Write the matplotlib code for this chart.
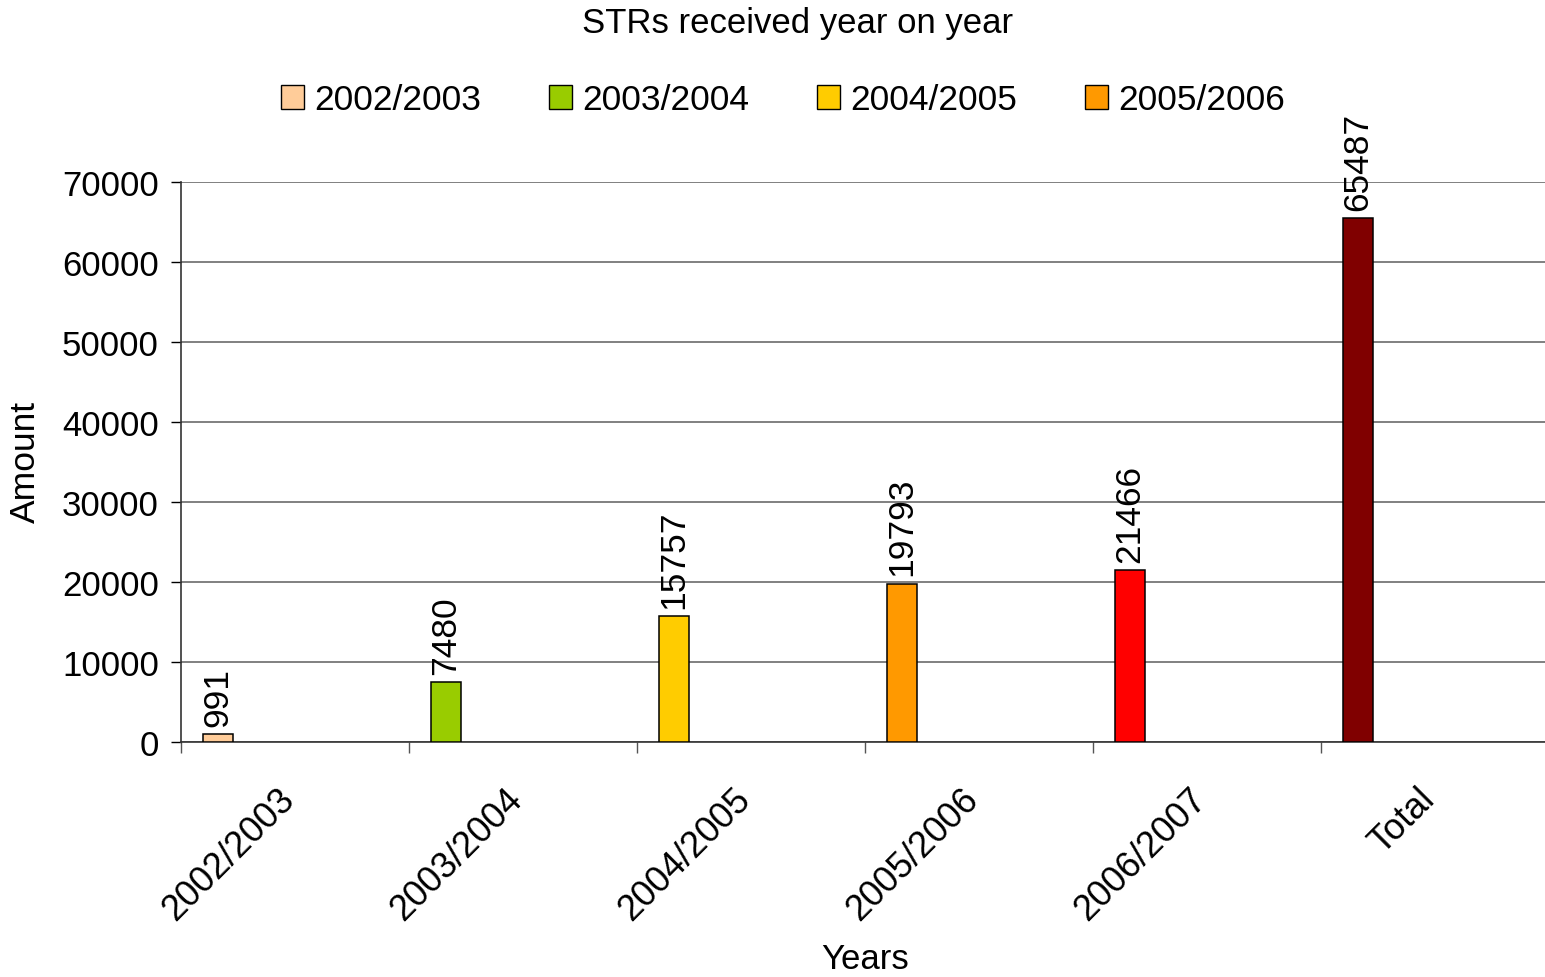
import numpy as np
import matplotlib
matplotlib.use('Agg')
from matplotlib import pyplot as plt
from matplotlib.patches import Patch

categories = ['2002/2003', '2003/2004', '2004/2005', '2005/2006', '2006/2007', 'Total']
values = [991, 7480, 15757, 19793, 21466, 65487]
colors = ['#FFCC99', '#99CC00', '#FFCC00', '#FF9900', '#FF0000', '#800000']
legend_labels = ['2002/2003', '2003/2004', '2004/2005', '2005/2006']
legend_colors = ['#FFCC99', '#99CC00', '#FFCC00', '#FF9900']

plt.rc('font', family=['Liberation Sans', 'DejaVu Sans'])

fig = plt.figure(figsize=(15.45, 9.78), dpi=100)
ax = fig.add_axes([181 / 1545, 1 - 743 / 978, 1 - 181 / 1545, (743 - 183) / 978])

x = np.arange(len(categories))
ax.bar(x + 0.162, values, width=0.132, color=colors, edgecolor='black', linewidth=1.1, zorder=3)

for xi, v in zip(x, values):
    ax.annotate(str(v), (xi + 0.162, v), xytext=(0, 6), textcoords='offset points',
                rotation=90, ha='center', va='bottom', fontsize=25.5, annotation_clip=False)

ax.set_xlim(0, 1364 / 228)
ax.set_ylim(0, 70000)
ax.set_yticks(range(0, 70001, 10000))
ax.tick_params(axis='y', labelsize=25, length=7, width=1, pad=9)

ax.set_xticks(range(0, 6))
ax.set_xticklabels([])
ax.set_xticks(x + 0.42, minor=True)
ax.set_xticklabels(categories, minor=True, rotation=45, ha='right', va='top',
                   rotation_mode='anchor', fontsize=26)
ax.tick_params(axis='x', which='major', length=8, width=1, color='#555555')
ax.tick_params(axis='x', which='minor', length=0, pad=28)

ax.yaxis.grid(True, color='#808080', linewidth=1.4, zorder=0)
ax.set_axisbelow(True)
for s in ['top', 'right']:
    ax.spines[s].set_visible(False)
ax.spines['left'].set_color('#333333')
ax.spines['bottom'].set_color('#333333')
ax.spines['left'].set_linewidth(1.2)
ax.spines['bottom'].set_linewidth(1.2)

fig.text(25 / 1545, 1 - 462 / 978, 'Amount', rotation=90, ha='center', va='center', fontsize=25.5)
fig.text(865 / 1545, 1 - 960 / 978, 'Years', ha='center', va='center', fontsize=25)
fig.text(798 / 1545, 1 - 23 / 978, 'STRs received year on year', ha='center', va='center', fontsize=25)

handles = [Patch(facecolor=c, edgecolor='black', linewidth=1) for c in legend_colors]
fig.legend(handles, legend_labels, loc='center', bbox_to_anchor=(783 / 1545, 1 - 101 / 978),
           ncol=4, frameon=False, fontsize=25.5, handlelength=0.65, handleheight=0.65,
           handletextpad=0.3, columnspacing=1.9)

fig.savefig('out.png', dpi=100, facecolor='white')
